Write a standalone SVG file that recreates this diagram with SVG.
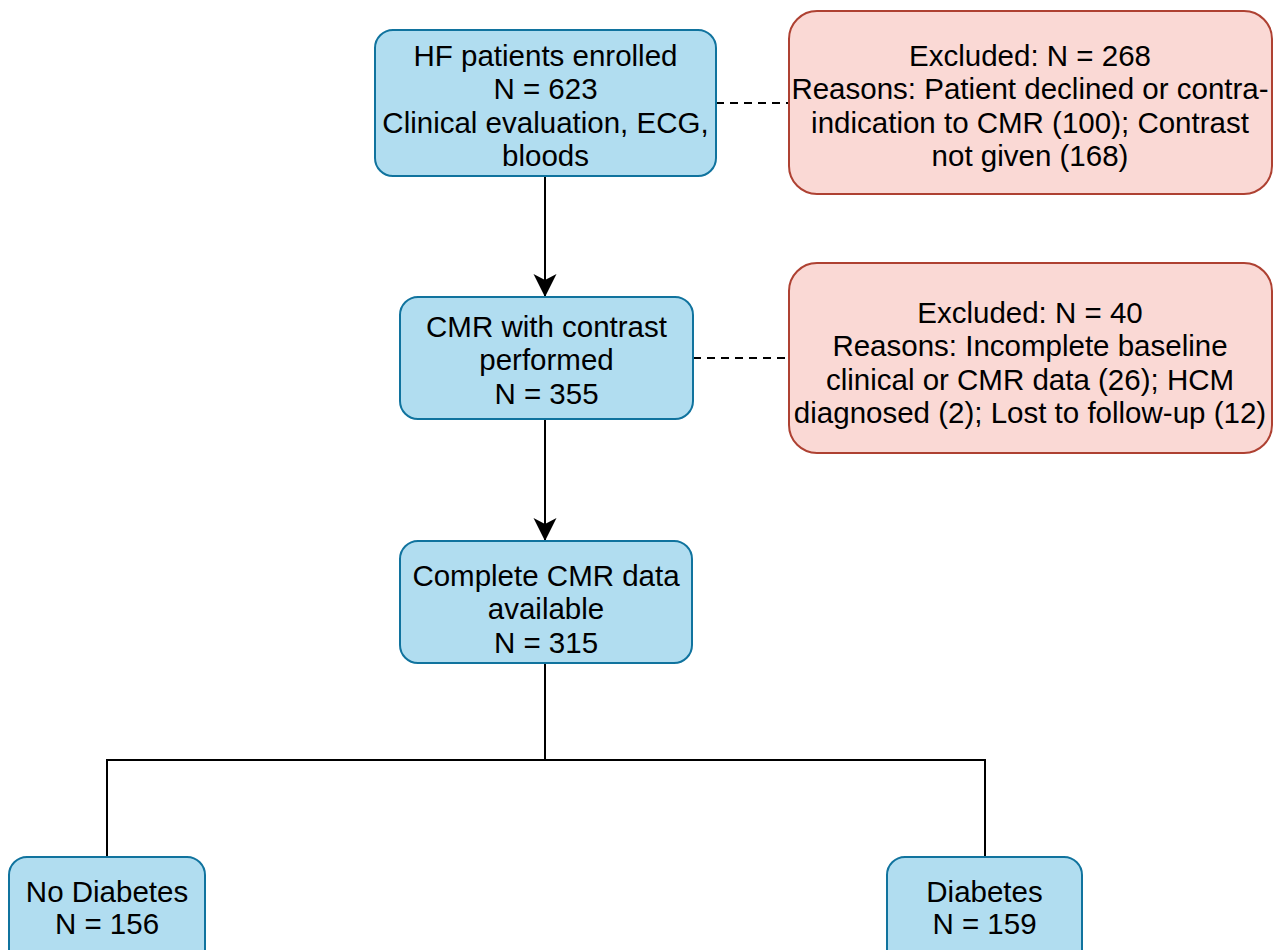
<svg xmlns="http://www.w3.org/2000/svg" width="1274" height="950" viewBox="0 0 1274 950">
<style>
.blue{fill:#b1ddf0;stroke:#10739e;stroke-width:2}
.red{fill:#fad9d5;stroke:#ae4132;stroke-width:2}
.t{font-family:"Liberation Sans",Arial,sans-serif;font-size:29.5px;fill:#000;text-anchor:middle}
.ln{fill:none;stroke:#000;stroke-width:2}
.dash{fill:none;stroke:#000;stroke-width:2;stroke-dasharray:8 6}
</style>
<defs>
<marker id="arr" markerWidth="26" markerHeight="26" viewBox="0 0 26 26" refX="24" refY="13" orient="auto" markerUnits="userSpaceOnUse">
<path d="M1,1.5 L24,13 L1,24.5 L7,13 Z" fill="#000"/>
</marker>
</defs>
<rect width="1274" height="950" fill="#fff"/>
<g id="connectors">
<line class="ln" x1="545" y1="176" x2="545" y2="297" marker-end="url(#arr)"/>
<line class="ln" x1="545" y1="419" x2="545" y2="541" marker-end="url(#arr)"/>
<polyline class="ln" points="545,663 545,760"/>
<polyline class="ln" points="107,857 107,760 985,760 985,857"/>
<line class="dash" x1="716" y1="103" x2="789" y2="103"/>
<line class="dash" x1="693" y1="358" x2="789" y2="358"/>
</g>
<g id="enrolled">
<rect class="blue" x="375" y="30" width="341" height="146" rx="18"/>
<text class="t" x="545.5" y="65.5">HF patients enrolled</text>
<text class="t" x="545.5" y="99">N = 623</text>
<text class="t" x="545.5" y="132.5">Clinical evaluation, ECG,</text>
<text class="t" x="545.5" y="166">bloods</text>
</g>
<g id="excluded1">
<rect class="red" x="789" y="11" width="483" height="183" rx="28"/>
<text class="t" x="1030" y="65.5">Excluded: N = 268</text>
<text class="t" x="1030" y="99">Reasons: Patient declined or contra-</text>
<text class="t" x="1030" y="132.5">indication to CMR (100); Contrast</text>
<text class="t" x="1030" y="166">not given (168)</text>
</g>
<g id="cmr">
<rect class="blue" x="400" y="297" width="293" height="122" rx="18"/>
<text class="t" x="546.5" y="336.5">CMR with contrast</text>
<text class="t" x="546.5" y="370">performed</text>
<text class="t" x="546.5" y="403.5">N = 355</text>
</g>
<g id="excluded2">
<rect class="red" x="789" y="263" width="483" height="190" rx="28"/>
<text class="t" x="1030" y="322.5">Excluded: N = 40</text>
<text class="t" x="1030" y="356">Reasons: Incomplete baseline</text>
<text class="t" x="1030" y="389.5">clinical or CMR data (26); HCM</text>
<text class="t" x="1030" y="423">diagnosed (2); Lost to follow-up (12)</text>
</g>
<g id="complete">
<rect class="blue" x="400" y="541" width="292" height="122" rx="18"/>
<text class="t" x="546" y="585.5">Complete CMR data</text>
<text class="t" x="546" y="619">available</text>
<text class="t" x="546" y="652.5">N = 315</text>
</g>
<g id="nodiabetes">
<rect class="blue" x="9" y="857" width="196" height="110" rx="18"/>
<text class="t" x="107" y="901.5">No Diabetes</text>
<text class="t" x="107" y="934">N = 156</text>
</g>
<g id="diabetes">
<rect class="blue" x="887" y="857" width="195" height="110" rx="18"/>
<text class="t" x="984.5" y="901.5">Diabetes</text>
<text class="t" x="984.5" y="934">N = 159</text>
</g>
</svg>
